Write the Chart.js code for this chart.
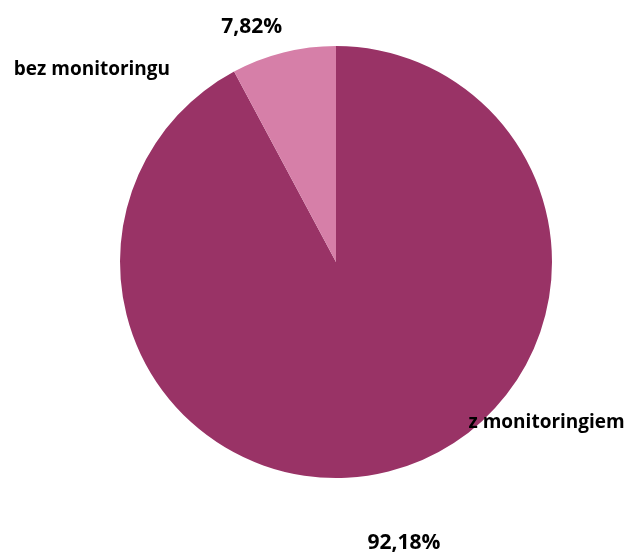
<!DOCTYPE html>
<html>
<head>
<meta charset="utf-8">
<script src="https://cdn.jsdelivr.net/npm/chart.js@4"></script>
<style>
  html, body { margin: 0; padding: 0; background: #ffffff; }
  #wrap { width: 630px; height: 553px; }
</style>
</head>
<body>
<div id="wrap"><canvas id="chart" width="630" height="553"></canvas></div>
<script>
const categories = ['z monitoringiem', 'bez monitoringu'];
const shares = [92.18, 7.82];
const shareLabels = ['92,18%', '7,82%'];
const sliceColors = ['#993366', '#D67FA8'];

// label placement: offsets from pie centre, in units of radius
const nameSpots = [[0.975, 0.745], [-1.13, -0.89]];
const valueSpots = [[0.315, 1.30], [-0.39, -1.09]];

const labelPlugin = {
    id: 'sliceLabels',
    afterDatasetsDraw(chart) {
        const ctx = chart.ctx;
        const arcs = chart.getDatasetMeta(0).data;
        const cx = arcs[0].x;
        const cy = arcs[0].y;
        const r = arcs[0].outerRadius;
        ctx.save();
        ctx.fillStyle = '#000000';
        ctx.textAlign = 'center';
        ctx.textBaseline = 'middle';
        categories.forEach((name, i) => {
            ctx.font = 'bold 19px "Open Sans", sans-serif';
            ctx.fillText(name, cx + nameSpots[i][0] * r, cy + nameSpots[i][1] * r);
            ctx.font = 'bold 21px "Open Sans", sans-serif';
            ctx.fillText(shareLabels[i], cx + valueSpots[i][0] * r, cy + valueSpots[i][1] * r);
        });
        ctx.restore();
    }
};

new Chart(document.getElementById('chart').getContext('2d'), {
    type: 'pie',
    data: {
        labels: categories,
        datasets: [{
            data: shares,
            backgroundColor: sliceColors,
            borderWidth: 0
        }]
    },
    options: {
        responsive: false,
        animation: false,
        layout: {
            padding: { left: 120, right: 78, top: 46, bottom: 75 }
        },
        plugins: {
            legend: { display: false },
            tooltip: { enabled: false }
        }
    },
    plugins: [labelPlugin]
});
</script>
</body>
</html>
